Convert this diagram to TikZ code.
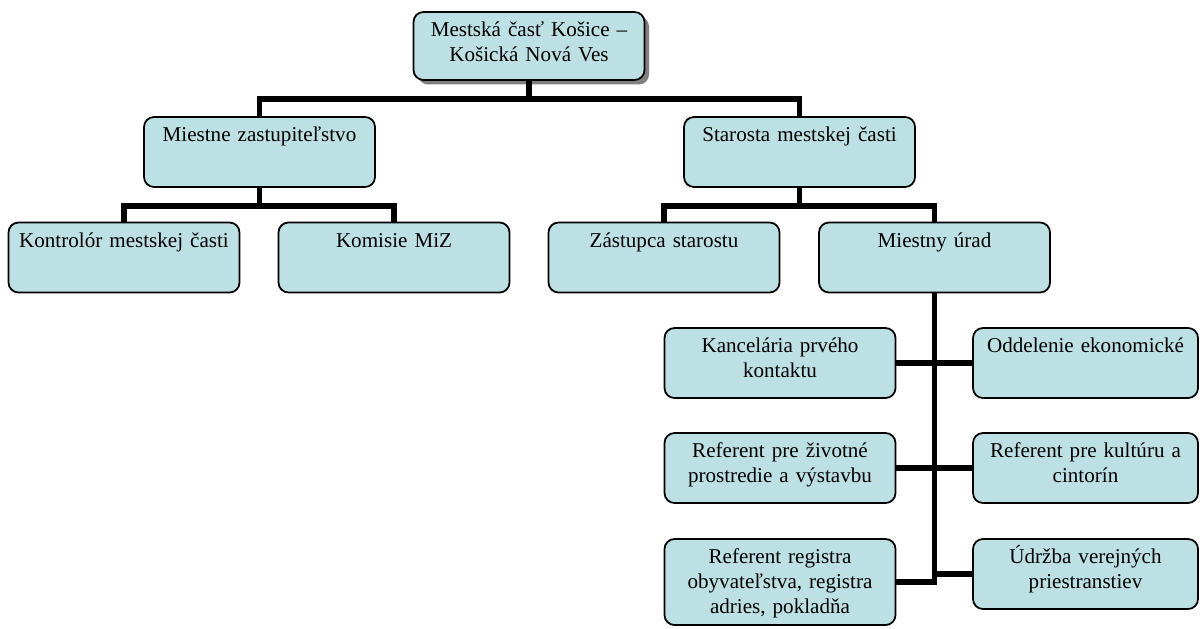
\documentclass[tikz,border=0pt]{standalone}
\usepackage{fontspec}
\setmainfont{Liberation Serif}
\usetikzlibrary{shadows}
\definecolor{boxfill}{RGB}{188,224,228}
\tikzset{
  orgbox/.style={draw, line width=1pt, rounded corners=0.2cm, fill=boxfill,
    inner sep=0pt, text width=4.62cm, align=center,
    text height=0.49cm, text depth=0.91cm,
    font=\fontsize{12pt}{14.2pt}\selectfont},
  narrowbox/.style={text width=4.5cm},
  tallbox/.style={text depth=1.23cm},
  link/.style={line width=3.2pt}
}
\begin{document}
\begin{tikzpicture}
      \useasboundingbox (0,0) rectangle (24,-12.56);
      \draw
        (10.58,-0.92) node[orgbox, text depth=0.87cm,
          drop shadow={shadow xshift=0.09cm, shadow yshift=-0.09cm,
          fill=black!50, opacity=1}] (mestska){Mestská časť Košice –\\Košická Nová Ves}
        (5.19,-3.04) node[orgbox] (zastup){Miestne zastupiteľstvo}
        (15.99,-3.04) node[orgbox] (starosta){Starosta mestskej časti}
        (2.48,-5.15) node[orgbox] (kontrolor){Kontrolór mestskej časti}
        (7.88,-5.15) node[orgbox] (komisie){Komisie MiZ}
        (13.28,-5.15) node[orgbox] (zastupca){Zástupca starostu}
        (18.69,-5.15) node[orgbox] (urad){Miestny úrad}
        (15.6,-7.26) node[orgbox] (kancelaria){Kancelária prvého\\kontaktu}
        (15.6,-9.36) node[orgbox] (zivotne){Referent pre životné\\prostredie a výstavbu}
        (15.6,-11.64) node[orgbox, tallbox] (registra){Referent registra\\obyvateľstva, registra\\adries, pokladňa}
        (21.71,-7.26) node[orgbox, narrowbox] (ekonom){Oddelenie ekonomické}
        (21.71,-9.36) node[orgbox, narrowbox] (kultura){Referent pre kultúru a\\cintorín}
        (21.71,-11.48) node[orgbox, narrowbox] (udrzba){Údržba verejných\\priestranstiev};
      \begin{scope}[link]
        \draw (mestska.south) -- ++(0,-0.36) -| (zastup.north);
        \draw (mestska.south) -- ++(0,-0.36) -| (starosta.north);
        \draw (zastup.south) -- ++(0,-0.36) -| (kontrolor.north);
        \draw (zastup.south) -- ++(0,-0.36) -| (komisie.north);
        \draw (starosta.south) -- ++(0,-0.36) -| (zastupca.north);
        \draw (starosta.south) -- ++(0,-0.36) -| (urad.north);
        \draw (urad.south) |- (kancelaria.east);
        \draw (urad.south) |- (zivotne.east);
        \draw (urad.south) |- (registra.east);
        \draw (urad.south) |- (ekonom.west);
        \draw (urad.south) |- (kultura.west);
        \draw (urad.south) |- (udrzba.west);
      \end{scope}
    \end{tikzpicture}
\end{document}
